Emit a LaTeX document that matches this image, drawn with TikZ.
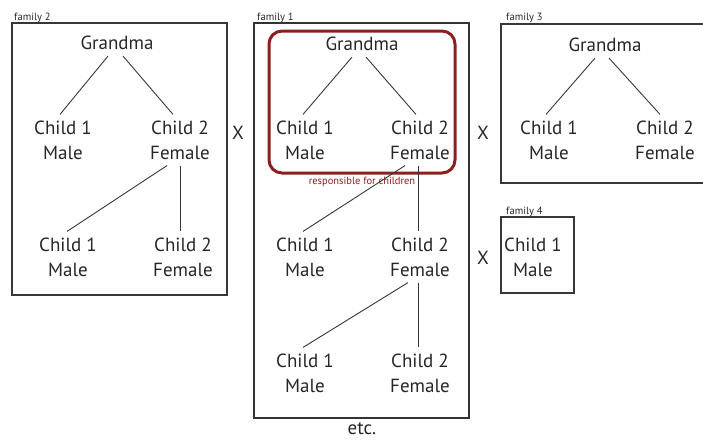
\documentclass[tikz,border=0pt]{standalone}
\usepackage{fontspec}
\setmainfont{PT Sans}
\usetikzlibrary{positioning}
\definecolor{famred}{RGB}{140,30,30}
\definecolor{linegray}{RGB}{55,55,55}
\tikzset{%
  % Specifications for style of nodes:
  person/.style = {align=center, inner sep=6pt, text=black!85,
                   font=\fontsize{19}{25}\selectfont},
  famlabel/.style = {inner sep=0pt, anchor=base west, text=black!85,
                     font=\fontsize{10.5}{11}\selectfont},
  resplabel/.style = {inner sep=0pt, text=famred,
                      font=\fontsize{10.5}{11}\selectfont},
  famframe/.style = {draw=linegray, line width=1.1pt},
  mainframe/.style = {draw=black!80, line width=2pt},
  respbox/.style = {draw=famred, line width=3pt, rounded corners=13pt},
  branch/.style = {draw=linegray, line width=0.9pt}
}
\begin{document}
\begin{tikzpicture}[x=1pt, y=-1pt, node distance=115pt, every node/.style={person}]
\useasboundingbox (0,0) rectangle (703,439);

% family 2
\draw[famframe] (12,23) rectangle (227,295);
\node[famlabel] (f2) at (14,20) {family 2};
\node (g2) at (117,43) {Grandma};
\node (c21) at (63,140) {Child 1\\Male};
\node[right of=c21, xshift=2pt] (c22) {Child 2\\Female};
\node (c23) at (68,257) {Child 1\\Male};
\node[right of=c23] (c24) {Child 2\\Female};
\draw[branch] ([xshift=-9pt]g2.south) -- ([xshift=-3pt]c21.north);
\draw[branch] ([xshift=6pt]g2.south) -- ([xshift=-7pt]c22.north);
\draw[branch] ([xshift=-13pt]c22.south) -- ([xshift=-1pt]c23.north);
\draw[branch] (c22.south) -- ([xshift=-3pt]c24.north);

\node (x1) at (238,133) {X};

% family 1
\draw[mainframe] (254,23) rectangle (469,418);
\node[famlabel] (f1) at (257,20) {family 1};
\draw[respbox] (269,31) rectangle (455,173);
\node[resplabel] (resp) at (362,182) {responsible for children};
\node (g1) at (362,44) {Grandma};
\node (c11) at (305,140) {Child 1\\Male};
\node[right of=c11] (c12) {Child 2\\Female};
\node (c13) at (305,257) {Child 1\\Male};
\node[right of=c13] (c14) {Child 2\\Female};
\node (c15) at (305,373) {Child 1\\Male};
\node[right of=c15] (c16) {Child 2\\Female};
\draw[branch] ([xshift=-10pt]g1.south) -- ([xshift=-2pt]c11.north);
\draw[branch] ([xshift=4pt]g1.south) -- ([xshift=-4pt]c12.north);
\draw[branch] ([xshift=-15pt]c12.south) -- ([xshift=-2pt]c13.north);
\draw[branch] ([xshift=-2pt]c12.south) -- ([xshift=-2pt]c14.north);
\draw[branch] ([xshift=-12pt]c14.south) -- ([xshift=-2pt]c15.north);
\draw[branch] ([xshift=-2pt]c14.south) -- ([xshift=-2pt]c16.north);
\node[inner sep=0pt] (etc) at (362,429) {etc.};

\node (x2) at (483,133) {X};
\node (x3) at (483,258) {X};

% family 3
\draw[famframe] (501,24) rectangle (712,183);
\node[famlabel] (f3) at (506,20) {family 3};
\node (g3) at (605,45) {Grandma};
\node (c31) at (549,140) {Child 1\\Male};
\node[right of=c31, xshift=1pt] (c32) {Child 2\\Female};
\draw[branch] ([xshift=-10pt]g3.south) -- ([xshift=-3pt]c31.north);
\draw[branch] ([xshift=4pt]g3.south) -- ([xshift=-5pt]c32.north);

% family 4
\draw[famframe] (501,217) rectangle (574,293);
\node[famlabel] (f4) at (506,214) {family 4};
\node (c41) at (533,257) {Child 1\\Male};

\end{tikzpicture}
\end{document}
